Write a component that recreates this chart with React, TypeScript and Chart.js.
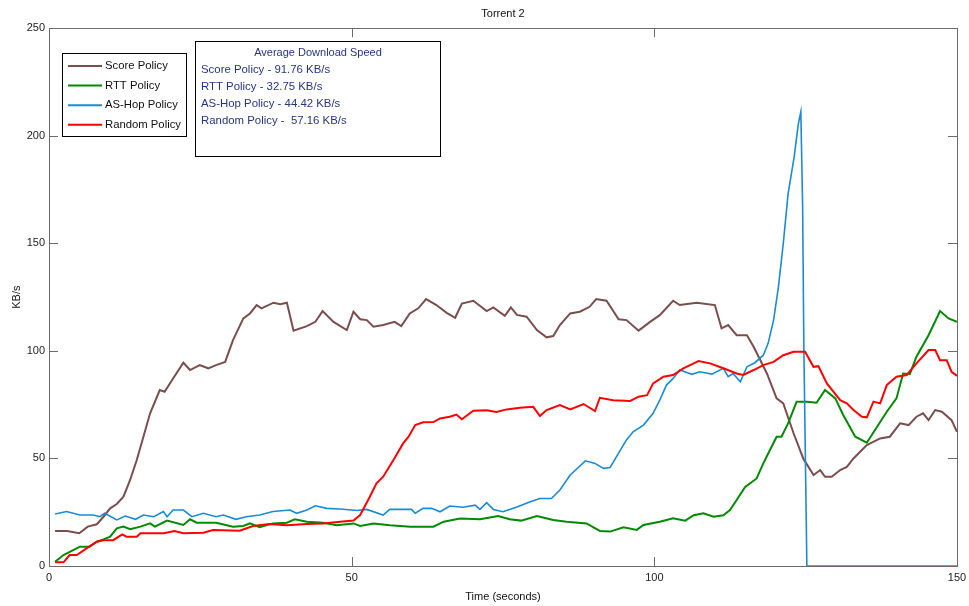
import React, { useEffect, useRef } from "react";
import { Chart, registerables } from "chart.js";

Chart.register(...registerables);

const chartTitle = "Torrent 2";
const xTitle = "Time (seconds)";
const yTitle = "KB/s";
const xTicks = [0, 50, 100, 150];
const yTicks = [0, 50, 100, 150, 200, 250];

const seriesNames = ["Score Policy", "RTT Policy", "AS-Hop Policy", "Random Policy"];
const seriesColors = ["#7b4d4d", "#008a00", "#1a8bd3", "#ff0000"];

const avgTitle = "Average Download Speed";
const avgLabels = ["Score Policy - ", "RTT Policy - ", "AS-Hop Policy - ", "Random Policy -  "];
const avgSpeeds = [91.76, 32.75, 44.42, 57.16];

const scoreT = [1, 3, 5, 6.4, 7.9, 9, 10.1, 11.2, 12.3, 13.4, 14.5, 15.6, 16.7, 18.3, 19.1, 20.5, 22.2, 23.3, 24.9, 26.3, 27.6, 29.1, 30.4, 32.1, 33.2, 34.3, 35.1, 37.1, 38.2, 39.3, 40.4, 42.6, 44, 45.2, 47, 49.2, 50.3, 51.4, 52.5, 53.6, 55.2, 57.1, 58.2, 59.6, 61, 62.3, 64, 65.7, 67.1, 68.2, 70.1, 72.3, 73.4, 75.3, 76.3, 77.3, 78.9, 80.6, 82.2, 83.3, 84.4, 86.1, 87.7, 89.3, 90.4, 92.1, 94.1, 95.4, 97.4, 99.3, 100.9, 103.1, 104.2, 107, 110, 111.1, 112.2, 113.6, 115.3, 116.4, 118.6, 120.2, 121.3, 123, 124.6, 126.3, 127.4, 128.2, 129.3, 130.7, 131.8, 132.9, 135.1, 137.3, 138.9, 140.6, 142, 143.3, 144.4, 145.3, 146.4, 147.5, 149.1, 150];
const scoreV = [16.3, 16.3, 15.2, 18.3, 19.4, 22.9, 26.8, 28.8, 32.2, 40, 49.3, 60.1, 71, 81.8, 81, 87.2, 94.5, 91.1, 93.4, 91.9, 93.4, 94.9, 105, 115.1, 117.4, 121.3, 119.8, 122.4, 121.7, 122.4, 109.4, 111.5, 113.5, 118.5, 113.5, 109.7, 118.2, 114.7, 114.3, 111.2, 112, 113.5, 111.5, 117.4, 119.8, 124.1, 121.3, 117.7, 115.4, 122, 123.3, 118.5, 120.2, 116.3, 120.2, 116.7, 115.9, 109.7, 106.3, 106.9, 112, 117.4, 118.2, 120.5, 124.1, 123.3, 114.7, 114.3, 109.4, 113.5, 116.6, 123.3, 121.3, 122.4, 121.3, 110.5, 112, 107.3, 107.3, 101.9, 89.5, 77.9, 75.6, 61.7, 50, 42.3, 44.6, 41.5, 41.5, 44.6, 46.1, 50, 56.2, 59.3, 60.1, 66.3, 65.5, 69.4, 71, 67.8, 72.5, 71.7, 67.8, 62.4];

const rttT = [1, 2.4, 4, 5.1, 6.7, 7.9, 9, 10.1, 11.2, 12.3, 13.4, 15.1, 16.7, 17.5, 19.5, 22.2, 23.3, 24.4, 27.6, 30.4, 32.1, 33.2, 34.8, 37, 39.3, 40.6, 42.6, 45.3, 47.5, 50.3, 51.4, 53.6, 56.3, 59.7, 63.5, 65.2, 67.9, 71.2, 74.2, 76.1, 78, 80.6, 83.3, 85.5, 88.8, 91, 92.7, 94.9, 97.1, 98.2, 100.9, 103.1, 105.1, 106.5, 108.1, 109.8, 111.4, 112.5, 113.6, 115, 116.9, 118, 119.1, 120.2, 121, 122.1, 123.5, 125.2, 126.8, 128.2, 129.9, 131.2, 133.2, 135.1, 136.8, 138.4, 140, 141.1, 142.2, 143.3, 145.3, 147.2, 148.6, 150];
const rttV = [2, 5.1, 7.4, 9, 9, 11.3, 12.4, 13.6, 17.5, 18.3, 17.1, 18.3, 19.8, 18.3, 21.1, 19.1, 21.7, 20.1, 20.1, 18.3, 18.6, 19.8, 18, 19.8, 20.1, 21.7, 20.6, 20.1, 18.9, 19.8, 18.6, 19.8, 18.9, 18.3, 18.3, 20.6, 22.1, 21.7, 23.2, 21.7, 21.1, 23.2, 21.4, 20.6, 19.8, 16.3, 16, 18, 16.8, 19.1, 20.6, 22.2, 21.1, 23.6, 24.5, 22.9, 23.6, 26, 30.7, 36.8, 40.7, 47.7, 53.9, 60.1, 60.1, 66.3, 76.3, 76.3, 75.9, 81.8, 77.9, 70.2, 60.1, 57.3, 64.7, 71.7, 77.9, 89.5, 89.2, 97.3, 107.3, 118.5, 115.1, 113.5];

const hopT = [1, 2.9, 5.1, 7.3, 8.4, 9.2, 11.2, 12.6, 14.3, 15.6, 17.3, 18.9, 19.5, 20.5, 22.2, 23.6, 25.5, 27.6, 28.8, 30.9, 32.6, 34.8, 37, 39.8, 40.9, 42.6, 44, 45.9, 48.1, 50.9, 52.5, 55.2, 56.3, 59.9, 60.5, 61.8, 63.2, 64.6, 66.2, 68.4, 70.4, 71.2, 72.3, 73.4, 75, 77.2, 79.5, 81.1, 83, 84.4, 86.1, 87.7, 88.6, 90.2, 91.6, 92.7, 93.8, 95.4, 96.5, 98.2, 99.8, 100.9, 102, 103.1, 104.2, 106.2, 107.5, 109.5, 111.4, 112.2, 113, 114.2, 115.3, 116.6, 118, 118.8, 119.7, 120.5, 121.3, 122.1, 123.1, 123.8, 124.2, 124.5, 124.7, 125.2, 150];
const hopV = [24.2, 25.3, 23.7, 23.7, 22.9, 24.5, 21.4, 23.2, 21.7, 23.7, 22.9, 25.3, 22.9, 26, 26, 22.9, 24.5, 22.9, 23.7, 21.7, 22.9, 23.7, 25.3, 26, 24.5, 26, 28, 26.8, 26.5, 25.8, 26.3, 23.7, 26.3, 26.3, 24.5, 26.8, 26.8, 25.2, 27.9, 27.3, 28.3, 26.3, 29.4, 26.3, 25.2, 27.3, 29.9, 31.4, 31.4, 35.3, 42.3, 46.5, 48.9, 47.7, 45.4, 45.8, 51.1, 58.6, 62.4, 65.5, 71, 77.1, 84.1, 87.2, 91.1, 89.1, 90.3, 89.2, 91.9, 88, 89.5, 85.6, 92.6, 94.5, 98, 103.5, 114.3, 129.8, 149.9, 173.1, 190.2, 205.7, 211.1, 167, 101.9, 0, 0];

const randT = [1, 2.4, 3.4, 4.6, 6.2, 7.9, 9, 10.6, 12.1, 12.8, 14.5, 15.1, 19, 20.7, 22.2, 25.5, 27.1, 31.5, 33.7, 36.4, 39.3, 42.6, 45.3, 48.1, 50.3, 51.4, 53, 54.1, 55.2, 56.9, 58.5, 59.4, 60.5, 61.8, 63.5, 64.6, 66.2, 67.3, 68.2, 70.1, 72.3, 73.9, 75.6, 77.8, 80, 81.1, 82.2, 84.4, 86.1, 88.3, 90.2, 91, 93.2, 96, 97.4, 98.8, 99.8, 101.5, 103.1, 104.8, 107.3, 109.2, 111.4, 113.6, 114.7, 116.4, 118, 119.7, 121.3, 123, 124.9, 126.3, 127.1, 128.5, 130.7, 131.8, 132.9, 134.3, 135.1, 136.2, 137.3, 138.4, 140, 141.7, 143.3, 145.3, 146.4, 147.2, 148.3, 149.1, 150];
const randV = [1.7, 1.7, 5.1, 5.1, 8.2, 11.3, 12, 12, 14.7, 13.6, 13.6, 15.2, 15.2, 16.3, 15.2, 15.5, 16.7, 16.4, 18.6, 19.5, 18.9, 19.5, 19.8, 20.6, 21.1, 23.7, 32.2, 38.4, 41.5, 49.3, 57, 60.1, 65.5, 66.8, 66.9, 68.6, 69.4, 70.4, 68.2, 72.2, 72.4, 71.6, 72.8, 73.6, 74, 69.7, 72.5, 74.8, 72.8, 75.3, 72, 78.2, 77.1, 76.7, 78.7, 79.4, 84.9, 88, 88.8, 91.9, 95.3, 94.2, 91.9, 89.5, 88.8, 91.1, 93.4, 94.9, 98, 99.6, 99.6, 92.6, 92.9, 84.9, 77.1, 75.6, 72.5, 69.4, 69.1, 76.4, 75.6, 84.1, 88, 88.8, 94.2, 100.4, 100.4, 95.7, 95.7, 90.3, 88.4];

const FONT = "'Liberation Sans', Arial, sans-serif";

function pts(t: number[], v: number[]) {
  return t.map((x, i) => ({ x, y: v[i] }));
}

const overlay = {
  id: "overlay",
  afterDatasetsDraw(chart: any) {
    const { ctx, chartArea: a, scales } = chart;
    const xs = scales.x;
    const ys = scales.y;
    ctx.save();
    ctx.strokeStyle = "#6b6b6b";
    ctx.lineWidth = 1;
    ctx.strokeRect(Math.round(a.left) + 0.5, Math.round(a.top) + 0.5, Math.round(a.right - a.left), Math.round(a.bottom - a.top));
    const tl = 9;
    ctx.beginPath();
    for (const v of yTicks) {
      const py = Math.round(ys.getPixelForValue(v)) + 0.5;
      ctx.moveTo(a.left, py); ctx.lineTo(a.left + tl, py);
      ctx.moveTo(a.right, py); ctx.lineTo(a.right - tl, py);
    }
    for (const v of xTicks) {
      const px = Math.round(xs.getPixelForValue(v)) + 0.5;
      ctx.moveTo(px, a.bottom); ctx.lineTo(px, a.bottom - tl);
      ctx.moveTo(px, a.top); ctx.lineTo(px, a.top + tl);
    }
    ctx.stroke();

    // legend
    const lx = 62.5, ly = 53.5, lw = 124, lh = 83;
    ctx.fillStyle = "#ffffff";
    ctx.fillRect(lx, ly, lw, lh);
    ctx.strokeStyle = "#000000";
    ctx.strokeRect(lx, ly, lw, lh);
    ctx.font = `11.3px ${FONT}`;
    ctx.textBaseline = "middle";
    ctx.textAlign = "left";
    chart.data.datasets.forEach((ds: any, i: number) => {
      const y = 66 + i * 19.6;
      ctx.strokeStyle = ds.borderColor;
      ctx.lineWidth = 2;
      ctx.beginPath();
      ctx.moveTo(68, y); ctx.lineTo(102, y);
      ctx.stroke();
      ctx.fillStyle = "#111111";
      ctx.fillText(ds.label, 105, y);
    });

    // annotation box
    const bx = 195.5, by = 41.5, bw = 245, bh = 115;
    ctx.fillStyle = "#ffffff";
    ctx.fillRect(bx, by, bw, bh);
    ctx.strokeStyle = "#000000";
    ctx.lineWidth = 1;
    ctx.strokeRect(bx, by, bw, bh);
    ctx.fillStyle = "#26357f";
    ctx.font = `11px ${FONT}`;
    ctx.textAlign = "center";
    ctx.fillText(avgTitle, 318, 53);
    ctx.font = `11.4px ${FONT}`;
    ctx.textAlign = "left";
    avgLabels.forEach((lab, i) => {
      ctx.fillText(`${lab}${avgSpeeds[i].toFixed(2)} KB/s`, 201, 70 + i * 16.8);
    });
    ctx.restore();
  },
};

export default function App() {
  const ref = useRef<HTMLCanvasElement>(null);
  useEffect(() => {
    if (!ref.current) return;
    const series = [pts(scoreT, scoreV), pts(rttT, rttV), pts(hopT, hopV), pts(randT, randV)];
    const chart = new Chart(ref.current, {
      type: "line",
      data: {
        datasets: series.map((d, i) => ({
          label: seriesNames[i],
          data: d,
          borderColor: seriesColors[i],
          backgroundColor: seriesColors[i],
          borderWidth: i === 2 ? 1.6 : 2,
          pointRadius: 0,
          tension: 0,
          fill: false,
          order: 3 - i,
        })),
      },
      options: {
        animation: false,
        responsive: false,
        devicePixelRatio: 1,
        layout: { padding: { left: 0, right: 12, top: 0, bottom: 0 } },
        plugins: {
          legend: { display: false },
          tooltip: { enabled: false },
          title: {
            display: true,
            text: chartTitle,
            fullSize: false,
            color: "#111",
            font: { family: FONT, size: 11, weight: "normal" },
            padding: { top: 7, bottom: 8 },
          },
        },
        scales: {
          x: {
            type: "linear",
            min: 0,
            max: 150,
            afterFit: (s: any) => { s.height = 40; s.paddingRight = 0; s.paddingLeft = 0; },
            afterBuildTicks: (s: any) => { s.ticks = xTicks.map((v) => ({ value: v })); },
            ticks: { color: "#222", font: { family: FONT, size: 11 }, padding: 5 },
            grid: { display: false, drawTicks: false },
            border: { display: false },
            title: { display: true, text: xTitle, color: "#111", font: { family: FONT, size: 11 }, padding: { top: 0, bottom: 2 } },
          },
          y: {
            type: "linear",
            min: 0,
            max: 250,
            afterFit: (s: any) => { s.width = 49; },
            afterBuildTicks: (s: any) => { s.ticks = yTicks.map((v) => ({ value: v })); },
            ticks: { color: "#222", font: { family: FONT, size: 11 }, padding: 4 },
            grid: { display: false, drawTicks: false },
            border: { display: false },
            title: { display: true, text: yTitle, color: "#111", font: { family: FONT, size: 11 }, padding: { top: 10, bottom: 0 } },
          },
        },
      },
      plugins: [overlay],
    });
    return () => chart.destroy();
  }, []);
  return (
    <div style={{ position: "absolute", left: 0, top: 0, width: 969, height: 606, background: "#fff" }}>
      <canvas ref={ref} width={969} height={606} style={{ display: "block" }} />
    </div>
  );
}
